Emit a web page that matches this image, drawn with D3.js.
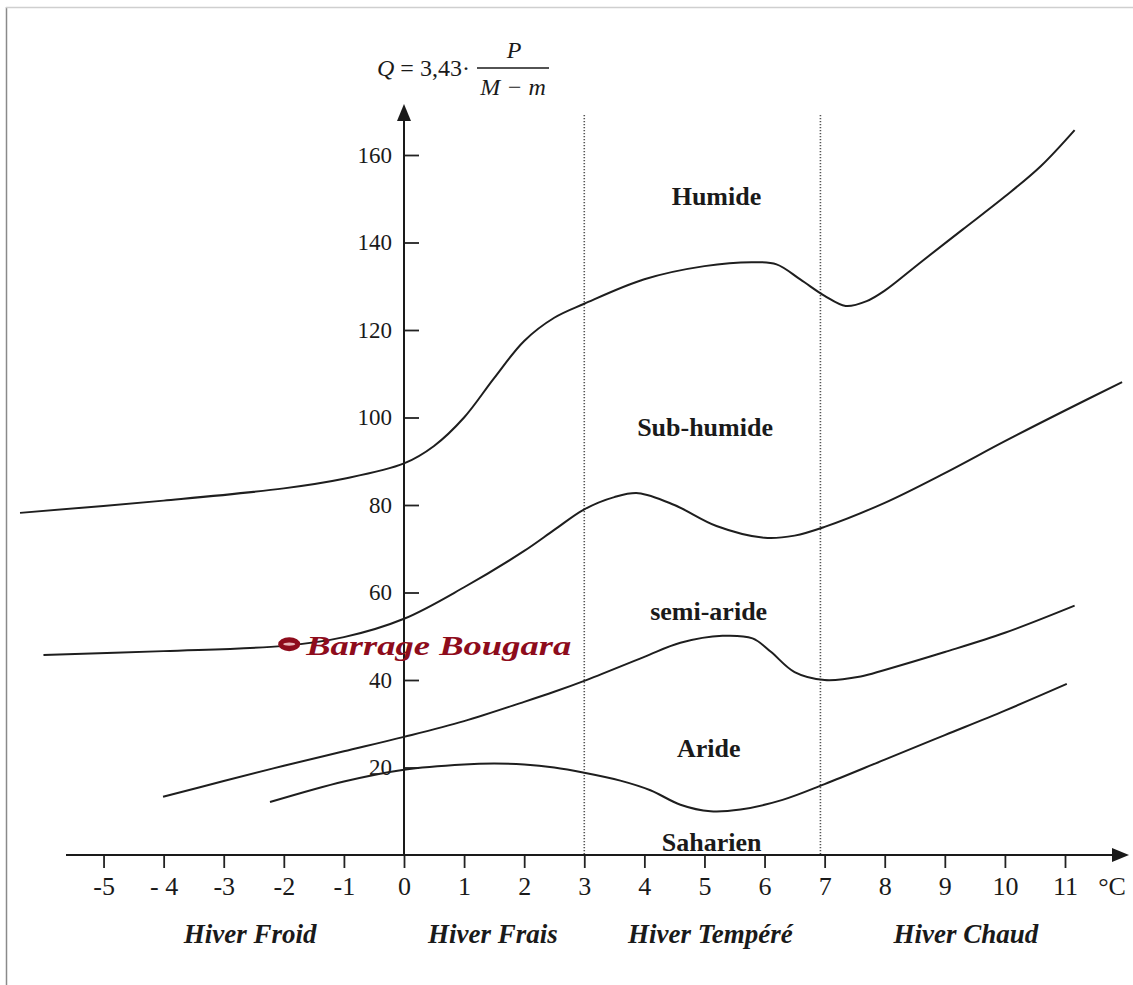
<!DOCTYPE html>
<html>
<head>
<meta charset="utf-8">
<script src="https://cdn.jsdelivr.net/npm/d3@7"></script>
<style>
  html, body { margin: 0; padding: 0; background: #fff; }
  svg { display: block; }
  text { font-family: "Liberation Serif", "Times New Roman", serif; fill: #1a1a1a; }
</style>
</head>
<body>
<svg id="chart" width="1133" height="985"></svg>
<script>
// Emberger climagram: Q = 3,43 · P / (M − m) against m (°C)

const xTicks = [-5, -4, -3, -2, -1, 0, 1, 2, 3, 4, 5, 6, 7, 8, 9, 10, 11];
const xTickLabels = ["-5", "- 4", "-3", "-2", "-1", "0", "1", "2", "3", "4", "5", "6", "7", "8", "9", "10", "11"];
const yTicks = [20, 40, 60, 80, 100, 120, 140, 160];

// Boundary between Humide and Sub-humide
const humideM = [-6.39, -4, -2, -1, 0, 0.5, 1, 1.5, 2, 2.5, 3, 4, 5, 5.8, 6.2, 6.6, 7.0, 7.35, 7.7, 8.0, 8.6, 9.3, 10, 10.6, 11.16];
const humideQ = [78.2, 81.0, 83.8, 86.0, 89.5, 93.5, 100.0, 109.0, 117.5, 122.8, 126.0, 131.6, 134.6, 135.5, 135.0, 131.5, 127.8, 125.5, 126.6, 129.0, 135.5, 143.0, 150.5, 157.5, 165.7];

// Boundary between Sub-humide and semi-aride
const subHumideM = [-6.0, -4, -2, -1, 0, 1, 2, 2.5, 3, 3.5, 3.9, 4.5, 5.2, 6.0, 6.5, 7.0, 8, 9, 10, 11, 11.95];
const subHumideQ = [45.7, 46.6, 47.8, 49.8, 54.0, 61.2, 69.5, 74.3, 79.0, 81.8, 82.7, 80.0, 75.2, 72.5, 73.0, 75.0, 80.5, 87.3, 94.6, 101.6, 108.1];

// Boundary between semi-aride and Aride
const semiArideM = [-4.01, -3, -2, -1, 0, 1, 2, 2.5, 3, 4, 4.6, 5.3, 5.8, 6.1, 6.5, 7.0, 7.6, 8, 9, 10, 11.16];
const semiArideQ = [13.3, 16.9, 20.4, 23.7, 27.0, 30.6, 35.0, 37.3, 39.8, 45.3, 48.5, 50.1, 49.5, 46.5, 41.8, 40.0, 40.8, 42.3, 46.4, 50.8, 57.0];

// Boundary between Aride and Saharien
const arideM = [-2.23, -1, 0, 1, 1.5, 2, 2.5, 3, 3.6, 4.1, 4.6, 5.1, 5.6, 6.3, 7.0, 8, 9, 10, 11.03];
const arideQ = [12.1, 16.8, 19.5, 20.7, 20.9, 20.7, 20.0, 18.8, 17.0, 14.8, 11.5, 10.0, 10.4, 12.6, 16.2, 21.8, 27.4, 33.0, 39.1];

// Winter-type separators (m values)
const winterBounds = [3, 6.93];
const winterNames = ["Hiver Froid", "Hiver Frais", "Hiver Tempéré", "Hiver Chaud"];
const winterCenters = [-2.56, 1.48, 5.1, 9.35];

// Bioclimatic stage names and their anchor points (m, Q)
const stageNames = ["Humide", "Sub-humide", "semi-aride", "Aride", "Saharien"];
const stageM = [5.2, 5.01, 5.07, 5.07, 5.12];
const stageQ = [148.6, 95.8, 53.7, 22.4, 0.9];

// Station
const stationName = "Barrage Bougara";
const stationM = -1.91;
const stationQ = 48.2;

const svg = d3.select("#chart");

const x = d3.scaleLinear().domain([0, 11]).range([404, 1065]);
const y = d3.scaleLinear().domain([0, 160]).range([855, 155]);

// Page frame
svg.append("line").attr("x1", 6.5).attr("x2", 6.5).attr("y1", 7).attr("y2", 985)
  .attr("stroke", "#8a8a8a").attr("stroke-width", 1.5);
svg.append("line").attr("x1", 6).attr("x2", 1133).attr("y1", 7.5).attr("y2", 7.5)
  .attr("stroke", "#cfcfcf").attr("stroke-width", 1.5);

// Dotted winter separators
svg.selectAll("line.sep").data(winterBounds).join("line")
  .attr("class", "sep")
  .attr("x1", d => x(d)).attr("x2", d => x(d))
  .attr("y1", 115).attr("y2", y(0))
  .attr("stroke", "#555").attr("stroke-width", 1.6)
  .attr("stroke-dasharray", "1.2,1.8");

// Axes (ticks and labels)
const xAxis = d3.axisBottom(x).tickValues(xTicks)
  .tickFormat((d, i) => xTickLabels[i])
  .tickSizeInner(13).tickSizeOuter(0).tickPadding(9);
const gx = svg.append("g").attr("transform", `translate(0,${y(0)})`).call(xAxis);
gx.select(".domain").remove();
gx.selectAll(".tick line").attr("stroke", "#222").attr("stroke-width", 1.8);
gx.selectAll(".tick text").attr("font-size", 26).attr("font-family", "Liberation Serif").attr("fill", "#1a1a1a");

const yAxis = d3.axisLeft(y).tickValues(yTicks)
  .tickSizeInner(-15).tickSizeOuter(0).tickPadding(12);
const gy = svg.append("g").attr("transform", `translate(${x(0)},0)`).call(yAxis);
gy.select(".domain").remove();
gy.selectAll(".tick line").attr("stroke", "#222").attr("stroke-width", 1.8);
gy.selectAll(".tick text").attr("font-size", 23).attr("font-family", "Liberation Serif").attr("fill", "#1a1a1a");

// Axis lines with arrowheads
svg.append("line").attr("x1", 66).attr("x2", 1116).attr("y1", y(0)).attr("y2", y(0))
  .attr("stroke", "#1a1a1a").attr("stroke-width", 2);
svg.append("path")
  .attr("d", `M1129,${y(0)} L1112,${y(0) - 7} L1112,${y(0) + 7} Z`)
  .attr("fill", "#1a1a1a");
svg.append("line").attr("x1", x(0)).attr("x2", x(0)).attr("y1", y(0)).attr("y2", 118)
  .attr("stroke", "#1a1a1a").attr("stroke-width", 2);
svg.append("path")
  .attr("d", `M${x(0)},104 L${x(0) - 7},121 L${x(0) + 7},121 Z`)
  .attr("fill", "#1a1a1a");

// Unit label
svg.append("text").attr("x", 1112).attr("y", 895).attr("text-anchor", "middle")
  .attr("font-size", 26).text("°C");

// Formula above the Q axis
const f = svg.append("g");
const t1 = f.append("text").attr("x", 377).attr("y", 76).attr("font-size", 24);
t1.append("tspan").attr("font-style", "italic").text("Q");
t1.append("tspan").text(" = 3,43·");
f.append("line").attr("x1", 477).attr("x2", 549).attr("y1", 68).attr("y2", 68)
  .attr("stroke", "#1a1a1a").attr("stroke-width", 1.3);
f.append("text").attr("x", 514).attr("y", 58).attr("text-anchor", "middle")
  .attr("font-size", 24).attr("font-style", "italic").text("P");
f.append("text").attr("x", 513).attr("y", 95).attr("text-anchor", "middle")
  .attr("font-size", 24).attr("font-style", "italic").text("M − m");

// Boundary curves
const line = d3.line()
  .x(d => x(d[0])).y(d => y(d[1]))
  .curve(d3.curveCatmullRom.alpha(0.5));
const curves = [
  d3.zip(humideM, humideQ),
  d3.zip(subHumideM, subHumideQ),
  d3.zip(semiArideM, semiArideQ),
  d3.zip(arideM, arideQ)
];
svg.selectAll("path.limit").data(curves).join("path")
  .attr("class", "limit")
  .attr("d", line)
  .attr("fill", "none")
  .attr("stroke", "#1e1e1e")
  .attr("stroke-width", 2);

// Stage names
svg.selectAll("text.stage").data(stageNames).join("text")
  .attr("class", "stage")
  .attr("x", (d, i) => x(stageM[i]))
  .attr("y", (d, i) => y(stageQ[i]))
  .attr("text-anchor", "middle")
  .attr("font-size", 26)
  .attr("font-weight", "bold")
  .text(d => d);

// Winter-type names
svg.selectAll("text.winter").data(winterNames).join("text")
  .attr("class", "winter")
  .attr("x", (d, i) => x(winterCenters[i]))
  .attr("y", 943)
  .attr("text-anchor", "middle")
  .attr("font-size", 27)
  .attr("font-weight", "bold")
  .attr("font-style", "italic")
  .text(d => d);

// Station marker and name
const red = "#8e0c1c";
svg.append("ellipse")
  .attr("cx", x(stationM)).attr("cy", y(stationQ))
  .attr("rx", 11).attr("ry", 7)
  .attr("fill", red);
svg.append("ellipse")
  .attr("cx", x(stationM)).attr("cy", y(stationQ))
  .attr("rx", 6).attr("ry", 1.6)
  .attr("fill", "#e9b4b8");
svg.append("text")
  .attr("x", x(stationM) + 17).attr("y", y(stationQ) + 11)
  .attr("font-size", 28)
  .attr("font-weight", "bold")
  .attr("font-style", "italic")
  .style("fill", red)
  .attr("textLength", 265)
  .attr("lengthAdjust", "spacingAndGlyphs")
  .text(stationName);
</script>
</body>
</html>
